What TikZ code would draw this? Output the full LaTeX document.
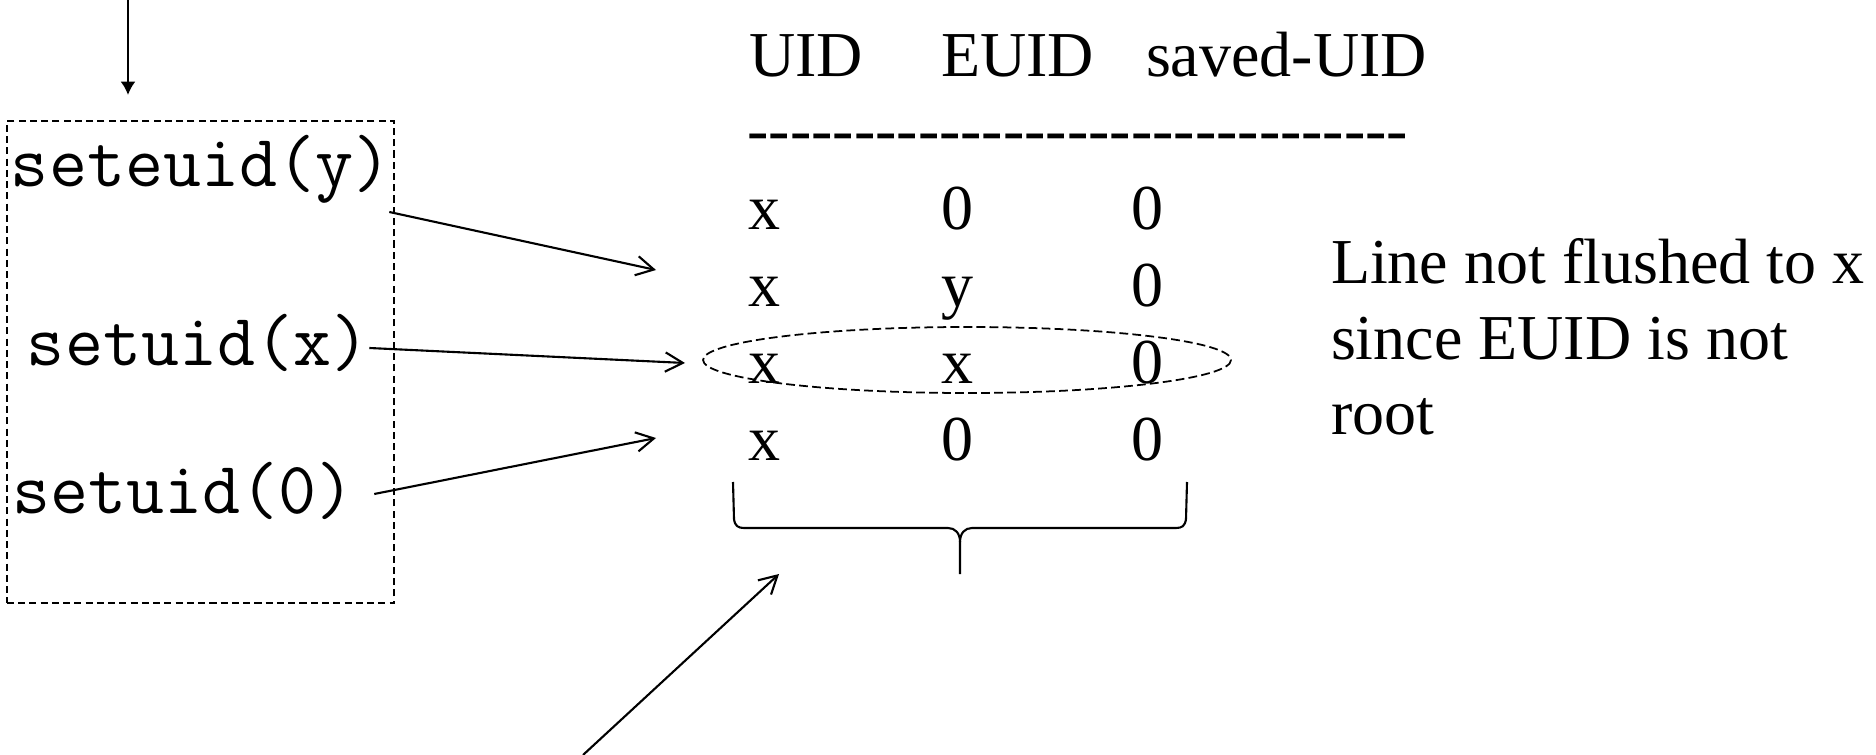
\documentclass[tikz,border=0pt]{standalone}
\usepackage{fontspec}
\setmainfont{Liberation Serif}
\usetikzlibrary{positioning}
\usetikzlibrary{calc}
\usetikzlibrary{arrows.meta}

\newcommand{\hyphenrule}{\foreach \k in {1,...,31}{-\kern0pt}}

\begin{document}
\begin{tikzpicture}[x=0.01cm, y=-0.01cm,
  every node/.style={inner sep=0pt, outer sep=0pt},
  call/.style={anchor=base west, font=\fontsize{21}{24}\selectfont\ttfamily},
  cell/.style={anchor=base west, font=\fontsize{18.2}{21.6}\selectfont},
  link/.style={line width=0.6pt, -{Straight Barb[length=5pt,width=5.5pt]}},
  callbox/.style={draw, line width=0.6pt, dash pattern=on 2pt off 1.2pt},
  ring/.style={line width=0.5pt, dash pattern=on 2.5pt off 1.2pt}]

\useasboundingbox (0,0) rectangle (1876,755);

% system calls
\node (calls) [callbox, minimum width=110.1pt, minimum height=137.1pt] at (200.5,362) {};
\node (cmdy) [call] at (11,187) {seteuid(y)};
\node (cmdx) [call] at (27,366) {setuid(x)};
\node (cmd0) [call] at (12,513) {setuid(0)};

\coordinate (entry) at (128,0);
\draw [line width=0.6pt, -{Latex[length=3.8pt,width=4.3pt]}, shorten >=7.4pt] (entry) -- (entry |- calls.north);

% table
\node (huid) [cell] at (749,77) {UID};
\node (heuid) [cell] at (941,77) {EUID};
\node (hsaved) [cell] at (1146,77) {saved-UID};
\node (rule) [cell] at (747.5,152) {\hyphenrule};

\foreach \u/\e/\s [count=\i] in {x/0/0, x/y/0, x/x/0, x/0/0} {
  \node (u\i) [cell] at (748,153+77*\i) {\u};
  \node (e\i) [cell] at (941,153+77*\i) {\e};
  \node (s\i) [cell] at (1131.5,153+77*\i) {\s};
}

\draw [ring] (967,360) ellipse [x radius=264, y radius=33];

\draw [link] ([shift={(-2,25)}]cmdy.base east) -- ([shift={(-92,-37)}]u2.base west);
\draw [link] ([shift={(0,-18)}]cmdx.base east) -- ([shift={(-63,-21)}]u3.base west);
\draw [link] ([shift={(20,-19)}]cmd0.base east) -- ([shift={(-92,-23)}]u4.base west);

% brace under the columns
\coordinate (brtip) at (960,574);
\draw [line width=0.6pt] (733,482) -- (734,519) .. controls (735,526) and (738,528) .. (744,528) -- (948,528) .. controls (955,528) and (960,533) .. (960,542) -- (brtip);
\draw [line width=0.6pt] (1187,482) -- (1186,519) .. controls (1185,526) and (1182,528) .. (1176,528) -- (972,528) .. controls (965,528) and (960,533) .. (960,542);

\coordinate (foot) at (583,755);
\draw [link] (foot) -- ([shift={(-181,0)}]brtip);

% base of a multi-line node is its last line
\node (note) [cell, align=left] at (1331,435) {Line not flushed to x\\since EUID is not\\root};

\end{tikzpicture}
\end{document}
